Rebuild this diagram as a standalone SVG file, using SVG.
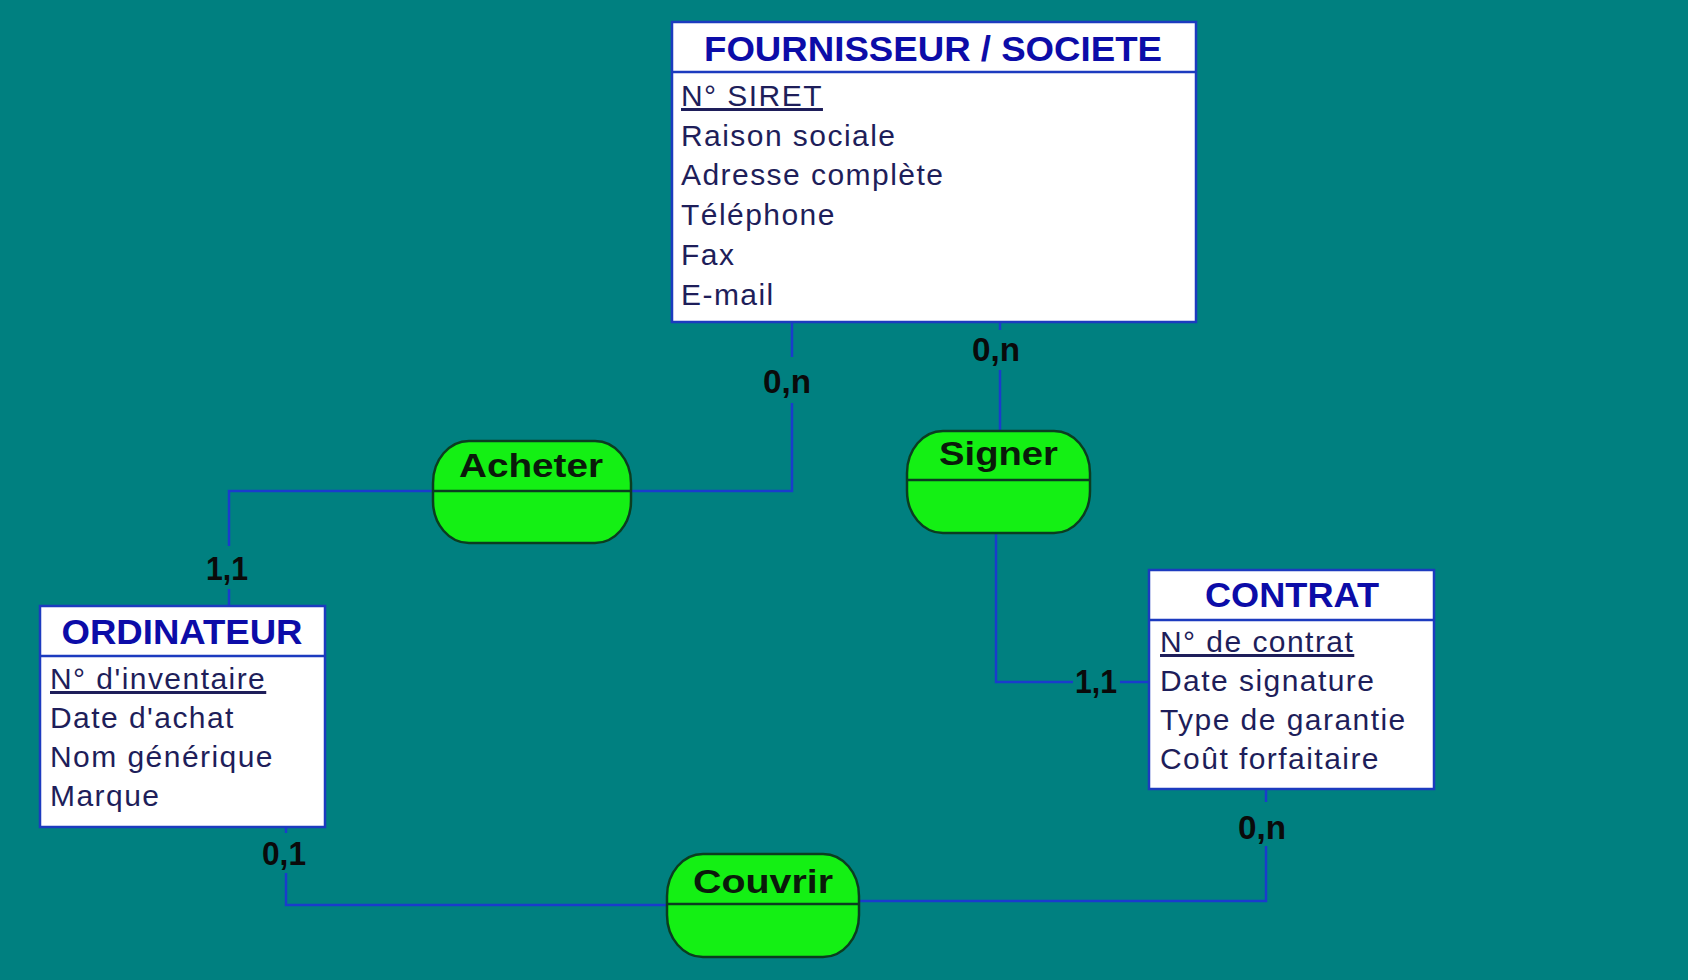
<svg xmlns="http://www.w3.org/2000/svg" width="1688" height="980" viewBox="0 0 1688 980">
<style>
.ent{fill:#ffffff;stroke:#1c3bbf;stroke-width:2.5}
.div{stroke:#1c3bbf;stroke-width:2.5}
.etitle{font-family:"Liberation Sans",Arial,sans-serif;font-weight:bold;font-size:35px;fill:#0c0ca8;text-anchor:middle}
.attr{font-family:"Liberation Sans",Arial,sans-serif;font-size:30px;letter-spacing:1.45px;fill:#1e1e5a}
.pk{text-decoration:underline}
.rel{fill:#14f014;stroke:#0b3d20;stroke-width:2.5}
.rdiv{stroke:#0b3d20;stroke-width:2.5}
.rtitle{font-family:"Liberation Sans",Arial,sans-serif;font-weight:bold;font-size:33px;fill:#0a1a0a;text-anchor:middle}
.conn{fill:none;stroke:#1a3ccc;stroke-width:2.5}
.card{font-family:"Liberation Sans",Arial,sans-serif;font-weight:bold;font-size:33px;fill:#0a0a0a;text-anchor:middle}
</style>
<rect x="0" y="0" width="1688" height="980" fill="#008080"/>

<g id="connectors">
  <path class="conn" d="M792,322 V357 M792,403 V491 H631"/>
  <path class="conn" d="M432,491 H229 V546 M229,589 V606"/>
  <path class="conn" d="M1000,322 V330 M1000,370 V431"/>
  <path class="conn" d="M996,533 V682 H1073 M1120,682 H1149"/>
  <path class="conn" d="M286,827 V833 M286,873 V905 H667"/>
  <path class="conn" d="M859,901 H1266 V846 M1266,802 V789"/>
  <text class="card" x="787" y="393" textLength="48" lengthAdjust="spacingAndGlyphs">0,n</text>
  <text class="card" x="996" y="361" textLength="48" lengthAdjust="spacingAndGlyphs">0,n</text>
  <text class="card" x="227" y="580" textLength="42" lengthAdjust="spacingAndGlyphs">1,1</text>
  <text class="card" x="1096" y="693" textLength="42" lengthAdjust="spacingAndGlyphs">1,1</text>
  <text class="card" x="284" y="865" textLength="44" lengthAdjust="spacingAndGlyphs">0,1</text>
  <text class="card" x="1262" y="839" textLength="48" lengthAdjust="spacingAndGlyphs">0,n</text>
</g>

<g id="fournisseur">
  <rect class="ent" x="672" y="22" width="524" height="300"/>
  <line class="div" x1="672" y1="72" x2="1196" y2="72"/>
  <text class="etitle" x="933" y="61" textLength="458" lengthAdjust="spacingAndGlyphs">FOURNISSEUR / SOCIETE</text>
  <text class="attr pk" x="681" y="106">N° SIRET</text>
  <text class="attr" x="681" y="145.5">Raison sociale</text>
  <text class="attr" x="681" y="185">Adresse complète</text>
  <text class="attr" x="681" y="225">Téléphone</text>
  <text class="attr" x="681" y="265">Fax</text>
  <text class="attr" x="681" y="304.5">E-mail</text>
</g>

<g id="ordinateur">
  <rect class="ent" x="40" y="606" width="285" height="221"/>
  <line class="div" x1="40" y1="656" x2="325" y2="656"/>
  <text class="etitle" x="182" y="644" textLength="241" lengthAdjust="spacingAndGlyphs">ORDINATEUR</text>
  <text class="attr pk" x="50" y="689">N° d'inventaire</text>
  <text class="attr" x="50" y="728">Date d'achat</text>
  <text class="attr" x="50" y="767">Nom générique</text>
  <text class="attr" x="50" y="806">Marque</text>
</g>

<g id="contrat">
  <rect class="ent" x="1149" y="570" width="285" height="219"/>
  <line class="div" x1="1149" y1="620" x2="1434" y2="620"/>
  <text class="etitle" x="1292" y="607" textLength="174" lengthAdjust="spacingAndGlyphs">CONTRAT</text>
  <text class="attr pk" x="1160" y="652">N° de contrat</text>
  <text class="attr" x="1160" y="691">Date signature</text>
  <text class="attr" x="1160" y="730">Type de garantie</text>
  <text class="attr" x="1160" y="769">Coût forfaitaire</text>
</g>

<g id="acheter">
  <rect class="rel" x="433" y="441" width="198" height="102" rx="36" ry="42"/>
  <line class="rdiv" x1="433" y1="491" x2="631" y2="491"/>
  <text class="rtitle" x="531" y="477" textLength="144" lengthAdjust="spacingAndGlyphs">Acheter</text>
</g>

<g id="signer">
  <rect class="rel" x="907" y="431" width="183" height="102" rx="36" ry="42"/>
  <line class="rdiv" x1="907" y1="480" x2="1090" y2="480"/>
  <text class="rtitle" x="998.5" y="465" textLength="119" lengthAdjust="spacingAndGlyphs">Signer</text>
</g>

<g id="couvrir">
  <rect class="rel" x="667" y="854" width="192" height="103" rx="36" ry="42"/>
  <line class="rdiv" x1="667" y1="904" x2="859" y2="904"/>
  <text class="rtitle" x="763" y="893" textLength="140" lengthAdjust="spacingAndGlyphs">Couvrir</text>
</g>
</svg>
